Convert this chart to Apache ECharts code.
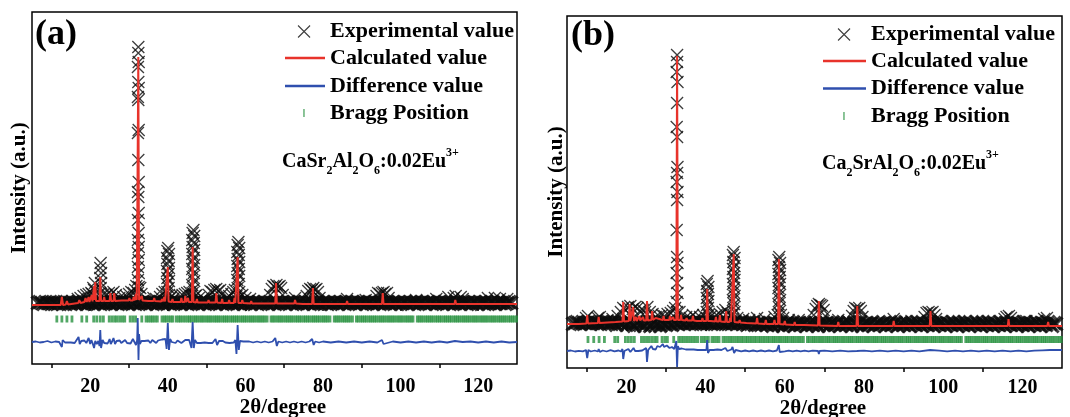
<!DOCTYPE html>
<html><head><meta charset="utf-8">
<script src="https://cdn.jsdelivr.net/npm/echarts/dist/echarts.min.js"></script>
<style>html,body{margin:0;padding:0;background:#fff}#c{width:1070px;height:417px}</style>
</head><body><div id="c"></div><script>
// ---------- DATA ----------
const xMajorTicks = [20, 40, 60, 80, 100, 120];
const xMinorTicks = [10, 30, 50, 70, 90, 110];

// Panel (a) CaSr2Al2O6:0.02Eu3+
const expA_base = [[6.5,1],[7,2],[7.5,1],[8,0],[8.5,2],[9,1],[9.5,1],
[10,0],[10.5,2],[11,1],[11.5,0],[12,1],[12.5,2],[13,0],[13.5,1],[14,2],[14.5,1],
[15,0],[15.5,2],[16,1],[16.5,0],[17,2],[17.5,1],[18,1],[18.5,2],[19,0],[19.5,1],
[20,2],[20.5,1],[21,0],[21.5,2],[22,1],[22.5,1],[23,2],[23.5,0],[24,1],[24.5,2],
[25,1],[25.5,0],[26,2],[26.5,1],[27,1],[27.5,2],[28,0],[28.5,1],[29,2],[29.5,1],
[30,0],[30.5,2],[31,1],[31.5,1],[32,2],[32.5,0],[33,1],[33.5,2],[34,1],[34.5,0],
[35,2],[35.5,1],[36,1],[36.5,2],[37,0],[37.5,1],[38,2],[38.5,1],[39,0],[39.5,2],
[40,1],[40.5,1],[41,2],[41.5,0],[42,1],[42.5,2],[43,1],[43.5,0],[44,2],[44.5,1],
[45,1],[45.5,2],[46,0],[46.5,1],[47,2],[47.5,1],[48,0],[48.5,2],[49,1],[49.5,1],
[50,2],[50.5,0],[51,1],[51.5,2],[52,1],[52.5,0],[53,2],[53.5,1],[54,1],[54.5,2],
[55,0],[55.5,1],[56,2],[56.5,1],[57,0],[57.5,2],[58,1],[58.5,1],[59,2],[59.5,0],
[60,1],[60.5,2],[61,1],[61.5,0],[62,2],[62.5,1],[63,1],[63.5,2],[64,0],[64.5,1],
[65,2],[65.5,1],[66,0],[66.5,2],[67,1],[67.5,1],[68,2],[68.5,0],[69,1],[69.5,2],
[70,1],[70.5,0],[71,2],[71.5,1],[72,1],[72.5,2],[73,0],[73.5,1],[74,2],[74.5,1],
[75,0],[75.5,2],[76,1],[76.5,1],[77,2],[77.5,0],[78,1],[78.5,2],[79,1],[79.5,0],
[80,2],[80.5,1],[81,1],[81.5,2],[82,0],[82.5,1],[83,2],[83.5,1],[84,0],[84.5,2],
[85,1],[85.5,1],[86,2],[86.5,0],[87,1],[87.5,2],[88,1],[88.5,0],[89,2],[89.5,1],
[90,1],[90.5,2],[91,0],[91.5,1],[92,2],[92.5,1],[93,0],[93.5,2],[94,1],[94.5,1],
[95,2],[95.5,0],[96,1],[96.5,2],[97,1],[97.5,0],[98,2],[98.5,1],[99,1],[99.5,2],
[100,0],[100.5,1],[101,2],[101.5,1],[102,0],[102.5,2],[103,1],[103.5,1],[104,2],[104.5,0],
[105,1],[105.5,2],[106,1],[106.5,0],[107,2],[107.5,1],[108,1],[108.5,2],[109,0],[109.5,1],
[110,2],[110.5,1],[111,0],[111.5,2],[112,1],[112.5,1],[113,2],[113.5,0],[114,1],[114.5,2],
[115,1],[115.5,0],[116,2],[116.5,1],[117,1],[117.5,2],[118,0],[118.5,1],[119,2],[119.5,1],
[120,0],[120.5,2],[121,1],[121.5,1],[122,2],[122.5,0],[123,1],[123.5,2],[124,1],[124.5,0],
[125,2],[125.5,1],[126,1],[126.5,2],[127,0],[127.5,1],[128,2],[128.5,1]];
const expA_peaks = [
[32.3,11],[32.5,17],[32.3,24],[32.5,31],[32.3,37],[32.5,44],[32.3,51],[32.5,57],[32.3,64],[32.5,71],[32.3,84],[32.5,91],[32.4,107],[32.3,112],[32.5,122],[32.4,144],[32.3,171],[32.5,174],[32.4,204],[32.3,207],[32.5,216],[32.4,222],[32.3,237],[32.5,242],[32.4,251],[32.4,257],
[31.6,14],[31.9,18],[32.9,16],[33.2,10],
[22.7,41],[22.6,36],[22.8,31],[22.6,26],[22.8,21],[22.7,16],[22.5,11],[21.0,14],[21.2,21],[20.5,10],[20.8,16],
[40.1,56],[39.9,53],[40.3,50],[39.8,46],[40.2,43],[39.9,40],[40.3,36],[39.8,33],[40.2,30],[39.9,26],[40.3,23],[39.8,20],[40.2,16],[39.9,12],[40.3,9],[39.6,8],[40.6,6],
[46.6,74],[46.4,71],[46.8,68],[46.3,64],[46.7,61],[46.4,57],[46.8,54],[46.3,50],[46.7,46],[46.4,43],[46.8,39],[46.3,35],[46.7,31],[46.4,27],[46.8,23],[46.3,19],[46.7,15],[46.4,11],[46.1,8],[47.0,8],
[58.2,62],[58.0,59],[58.4,56],[57.9,52],[58.3,49],[58.0,45],[58.4,42],[57.9,38],[58.3,35],[58.0,31],[58.4,28],[57.9,24],[58.3,20],[58.0,16],[58.4,12],[57.7,8],[58.7,8],
[56.4,10],[56.9,12],[57.3,14],
[66.4,9],[66.8,15],[67.2,18],[67.6,17],[68.0,19],[68.4,17],[68.8,18],[69.2,16],[69.6,9],
[75.8,8],[76.2,13],[76.7,15],[77.1,14],[77.5,16],[77.9,14],[78.3,15],[78.7,12],[79.1,6],
[93.8,8],[94.2,11],[94.7,10],[95.2,11],[95.6,12],[96.0,10],[96.5,11],[96.9,6],
[50.6,9],[51.0,13],[51.5,12],[52.0,14],[52.5,15],[53.0,13],[53.5,14],[54.0,10],
[16.8,5],[17.5,6],[18.3,8],[19.0,9],[19.6,10],[20.3,11],[23.5,10],[24.1,9],[24.8,11],[25.4,10],[26.0,12],[26.6,9],[27.5,6],[28.5,7],[29.3,8],[30.0,10],[30.6,12],[31.2,11],
[36.3,6],[37,5],[38,7],[38.6,10],[39.2,12],[41,8],[41.6,6],[43.2,8],[43.8,9],[44.4,10],[45,11],[45.6,12],
[47.4,9],[48,6],[49.2,5],[55.2,6],[55.8,8],[59.2,9],[60,6],[61.2,5],
[72.8,6],[86.2,5],[91,4],[104,4],[109.2,5],[112.3,7],[113.7,6],[114.2,8],[115.5,7],[116,5],[122.5,6],[124.3,6],[125.6,5],[127.5,5]];
const calcA = [[5,-1],[8,-1],[10,-1],[12.4,-1],[12.7,7],[13.0,-1],[13.7,-0.5],[14.0,3],[14.3,-0.5],[16,0.5],[16.9,1],[17.2,4],[17.5,1],[18.5,2],[18.8,6],[19.1,2],[19.4,2],[19.6,7],[19.8,2],[20.2,2.5],[20.4,9],[20.6,2.5],[20.8,3],[21.0,18],[21.15,4],[21.3,22],[21.5,3],[22.4,3],[22.6,27],[22.8,3],[23.4,3],[23.6,7],[23.8,3],[25.0,3],[25.2,11],[25.4,3],[26.0,3],[26.2,11],[26.4,3],[28.1,3.5],[28.3,5],[28.5,3.5],[29.9,3.5],[30.1,6],[30.3,3.5],[31.0,3.5],[31.2,7],[31.4,3.5],[31.6,4],[31.8,10],[32.0,4],[32.2,4],[32.4,247],[32.6,4],[33.1,3.5],[33.3,8],[33.5,3.5],[35.0,3],[35.2,5],[35.4,3],[36.3,3],[36.5,6],[36.7,3],[38.3,2.5],[38.5,5],[38.7,2.5],[38.9,2.5],[39.1,7],[39.3,2.5],[39.8,2.5],[40.0,37],[40.2,2.5],[41.0,2],[41.2,5],[41.4,2],[43.3,2],[43.5,6],[43.7,2],[44.3,2],[44.5,8],[44.7,2],[45.0,2],[45.2,6],[45.4,2],[46.2,2],[46.4,57],[46.6,2],[47.3,1.5],[47.5,5],[47.7,1.5],[50.3,1.5],[50.5,4],[50.7,1.5],[52.3,1.5],[52.5,11],[52.7,1.5],[53.8,1],[54.0,5],[54.2,1],[55.6,1],[55.8,4],[56.0,1],[57.0,1],[57.2,6],[57.4,1],[57.8,1],[58.0,47],[58.2,1],[59.0,1],[59.2,4],[59.4,1],[61.3,0.5],[61.5,3],[61.7,0.5],[63.8,0.5],[64.0,2],[64.2,0.5],[67.7,0.5],[67.9,21],[68.1,0.5],[72.6,0.5],[72.8,4],[73.0,0.5],[74.8,0],[75.0,2],[75.2,0],[77.2,0],[77.4,16],[77.6,0],[80.1,0],[80.3,2],[80.5,0],[81.8,0],[82.0,2],[82.2,0],[86.0,0],[86.2,3],[86.4,0],[90.8,0],[91.0,2],[91.2,0],[95.2,0],[95.4,11],[95.6,0],[96.8,0],[97.0,2],[97.2,0],[103.8,0],[104.0,1],[104.2,0],[108.8,0],[109.0,2],[109.2,0],[113.9,0],[114.1,4],[114.3,0],[118.8,0],[119.0,1],[119.2,0],[124.2,0],[124.4,2],[124.6,0],[130,0]];
const diffA = [[5,-38],[6,-37.5],[7,-38.5],[8,-38],[9,-37],[10,-38.5],[11,-37.5],[12,-38],[12.5,-37],[12.7,-43],[12.9,-36],[13.5,-38.5],[14,-37],[15,-38.5],[15.5,-37],[16,-39],[16.5,-37.5],[17,-33],[17.3,-40],[17.7,-37],[18,-38.5],[18.5,-36.5],[19,-39],[19.6,-34],[20,-40],[20.3,-36],[20.6,-39],[21.0,-44],[21.3,-37],[21.7,-40],[22.1,-37],[22.4,-42],[22.6,-26],[22.8,-44],[23.2,-36],[23.6,-39],[24,-37],[24.5,-39.5],[25,-35],[25.3,-40],[25.7,-37],[26,-34],[26.4,-40],[26.8,-37],[27.2,-39],[27.6,-36.5],[28,-39],[28.5,-37],[29,-36],[29.5,-39],[30,-37],[30.4,-39.5],[31,-35],[31.4,-38],[31.8,-41],[32.1,-36],[32.25,-14],[32.45,-56],[32.6,-30],[32.8,-40],[33.2,-37],[33.6,-39],[34,-37],[34.5,-38.5],[35,-36.5],[35.5,-39],[36,-36],[36.5,-38],[37,-39],[37.5,-36.5],[38,-38],[38.5,-35.5],[39,-37],[39.4,-35],[39.7,-45],[40,-19],[40.3,-46],[40.6,-35],[41,-38],[41.5,-37],[42,-39],[42.5,-36.5],[43,-35],[43.5,-39],[44,-40],[44.5,-36],[45,-38],[45.5,-36],[46.1,-44],[46.4,-18],[46.7,-44],[47,-36],[47.5,-39],[48,-37.5],[48.5,-39],[49,-37],[49.5,-38.5],[50,-37],[50.5,-39],[51,-37],[51.5,-39],[52,-37],[52.3,-35],[52.7,-41],[53.2,-37],[53.7,-39],[54.2,-37],[54.8,-38.5],[55.3,-37],[55.9,-39],[56.4,-37],[57,-38.5],[57.4,-36],[57.7,-50],[58,-21],[58.3,-46],[58.6,-37],[59,-39],[59.5,-37.5],[60,-38.5],[61,-37.5],[62,-38.5],[63,-37.5],[64,-38.5],[65,-37.5],[66,-38.5],[67,-37.5],[67.7,-34],[68.1,-42],[68.5,-37.5],[69.5,-38.5],[70.5,-37.5],[71.5,-38.5],[72.5,-37.5],[73.5,-38.5],[74.5,-37.5],[75.5,-38.5],[76.5,-37.5],[77.2,-35],[77.6,-41],[78,-37.5],[79,-38.5],[80,-37.5],[82,-38.5],[84,-37.5],[86,-38.5],[88,-37.5],[90,-38.5],[92,-37.5],[94,-38.5],[95.2,-36],[95.6,-40],[96,-38],[98,-37.5],[100,-38.5],[102,-37.5],[104,-38.5],[106,-37.5],[108,-38.5],[110,-37.5],[112,-38.5],[114,-37],[114.3,-39],[116,-38],[118,-37.5],[120,-38.5],[122,-37.5],[124,-38.5],[126,-37.5],[128,-38.5],[130,-38]];
const braggA = [11.4,12.7,14.0,15.3,17.85,19.1,20.9,21.7,22.6,23.4,24.9,25.6,26.3,26.9,27.6,28.3,28.9,30.3,31.0,31.7,
33.3,34.4,35.0,35.6,36.1,36.7,37.3,38.5,39.1,39.6,40.2,40.8,41.3,42.2,42.8,43.3,43.9,44.5,45.1,45.6,46.1,46.7,47.2,47.7,48.3,48.8,49.3,49.9,50.4,50.9,51.4,52.0,52.5,53.0,53.5,54.1,54.6,55.1,55.6,56.2,56.7,57.2,57.7,58.2,58.8,59.3,59.8,60.3,60.9,61.4,61.9,62.4,63.0,63.5,64.0,64.5,65.0,65.6,66.6,67.1,67.6,68.2,68.7,69.2,69.7,70.3,70.8,71.3,71.8,72.3,72.9,73.4,73.9,74.4,75.0,75.5,76.0,76.5,77.1,77.6,78.1,78.6,79.1,79.7,80.2,80.7,81.2,81.8,82.9,83.4,83.9,84.4,85.0,85.5,86.0,86.5,87.0,87.6,88.6,89.1,89.7,90.2,90.7,91.2,91.8,92.3,92.8,93.3,93.8,94.4,94.9,95.4,95.9,96.5,97.0,97.5,98.0,98.5,99.1,99.6,100.1,100.6,101.2,101.7,102.2,102.7,103.2,104.3,104.8,105.3,105.8,106.4,106.9,107.4,107.9,108.4,109.0,109.5,110.0,110.5,111.1,111.6,112.1,112.6,113.1,113.7,114.2,114.7,115.2,115.8,116.3,116.8,117.3,117.8,118.4,118.9,119.4,119.9,120.5,121.0,121.5,122.0,122.5,123.1,123.6,124.1,124.6,125.2,125.7,126.2,126.7,127.2,127.8,128.3,128.8,129.3,129.9];
const braggLevelA = -15;

// Panel (b) Ca2SrAl2O6:0.02Eu3+
const expB_base = [[6.5,0],[7,1],[7.5,2],[8,1],[8.5,0],[9,2],[9.5,1],
[10,1],[10.5,2],[11,0],[11.5,1],[12,2],[12.5,1],[13,1],[13.5,0],[14,2],[14.5,1],
[15,2],[15.5,0],[16,1],[16.5,2],[17,1],[17.5,-1],[18,2],[18.5,1],[19,0],[19.5,2],
[20,-1],[20.5,1],[21,2],[21.5,0],[22,-2],[22.5,1],[23,2],[23.5,-1],[24,1],[24.5,-2],
[25,1],[25.5,2],[26,-2],[26.5,0],[27,2],[27.5,-1],[28,1],[28.5,-2],[29,2],[29.5,0],
[30,-1],[30.5,2],[31,0],[31.5,-1],[32,2],[32.5,1],[33,0],[33.5,2],[34,1],[34.5,0],
[35,2],[35.5,1],[36,0],[36.5,1],[37,2],[37.5,0],[38,1],[38.5,2],[39,1],[39.5,0],
[40,2],[40.5,1],[41,1],[41.5,0],[42,2],[42.5,1],[43,0],[43.5,2],[44,1],[44.5,1],
[45,0],[45.5,2],[46,1],[46.5,0],[47,1],[47.5,2],[48,0],[48.5,1],[49,2],[49.5,0],
[50,1],[50.5,-1],[51,1],[51.5,0],[52,2],[52.5,-1],[53,0],[53.5,1],[54,-1],[54.5,1],
[55,0],[55.5,-1],[56,1],[56.5,0],[57,-2],[57.5,1],[58,0],[58.5,-1],[59,1],[59.5,-2],
[60,0],[60.5,1],[61,-1],[61.5,0],[62,2],[62.5,-2],[63,0],[63.5,1],[64,-1],[64.5,0],
[65,1],[65.5,-2],[66,0],[66.5,1],[67,-1],[67.5,2],[68,0],[68.5,-2],[69,1],[69.5,0],
[70,-1],[70.5,1],[71,-2],[71.5,0],[72,2],[72.5,-1],[73,0],[73.5,1],[74,-2],[74.5,0],
[75,1],[75.5,-1],[76,2],[76.5,0],[77,-2],[77.5,1],[78,0],[78.5,-1],[79,2],[79.5,-2],
[80,0],[80.5,1],[81,-1],[81.5,0],[82,2],[82.5,-2],[83,0],[83.5,1],[84,-1],[84.5,0],
[85,1],[85.5,-2],[86,0],[86.5,2],[87,-1],[87.5,0],[88,1],[88.5,-2],[89,0],[89.5,1],
[90,-1],[90.5,2],[91,0],[91.5,-2],[92,1],[92.5,0],[93,-1],[93.5,2],[94,0],[94.5,-2],
[95,1],[95.5,0],[96,-1],[96.5,2],[97,0],[97.5,-2],[98,1],[98.5,0],[99,-1],[99.5,2],
[100,0],[100.5,-2],[101,1],[101.5,0],[102,-1],[102.5,2],[103,0],[103.5,-2],[104,1],[104.5,0],
[105,-1],[105.5,2],[106,0],[106.5,-2],[107,1],[107.5,0],[108,-1],[108.5,2],[109,0],[109.5,-2],
[110,1],[110.5,0],[111,-1],[111.5,2],[112,0],[112.5,-2],[113,1],[113.5,0],[114,-1],[114.5,2],
[115,0],[115.5,-2],[116,1],[116.5,0],[117,-1],[117.5,2],[118,0],[118.5,-2],[119,1],[119.5,0],
[120,-1],[120.5,2],[121,0],[121.5,-2],[122,1],[122.5,0],[123,-1],[123.5,2],[124,0],[124.5,-2],
[125,1],[125.5,0],[126,-1],[126.5,2],[127,0],[127.5,-2],[128,1],[128.5,0]];
const expB_peaks = [
[32.8,12],[32.7,22],[32.9,31],[32.8,41],[32.7,51],[32.9,61],[32.8,67],[32.7,94],[32.8,124],[32.9,132],[32.7,142],[32.8,151],[32.9,157],[32.8,187],[32.7,197],[32.8,221],[32.9,242],[32.7,252],[32.8,262],[32.8,269],
[40.5,43],[40.3,40],[40.7,37],[40.4,33],[40.6,30],[40.3,26],[40.7,23],[40.4,19],[40.6,16],[40.3,12],[40.7,9],
[47.1,72],[46.9,69],[47.3,66],[47.0,62],[47.3,58],[46.9,55],[47.2,51],[47.0,47],[47.3,44],[46.9,40],[47.2,36],[47.0,32],[47.3,28],[46.9,24],[47.2,20],[47.0,16],[47.3,12],[46.8,9],
[58.6,67],[58.4,64],[58.8,61],[58.5,57],[58.8,54],[58.4,50],[58.7,47],[58.5,43],[58.8,40],[58.4,36],[58.7,32],[58.5,28],[58.8,24],[58.4,20],[58.7,16],[58.5,12],[58.2,9],[59.0,9],
[67.3,9],[67.8,15],[68.2,18],[68.6,20],[69.0,19],[69.4,18],[69.8,14],[70.2,8],
[77.0,8],[77.4,13],[77.8,16],[78.3,15],[78.8,16],[79.2,13],[79.6,7],
[95.3,7],[95.8,11],[96.3,12],[96.8,11],[97.3,12],[97.8,9],[98.2,5],
[115.5,5],[116.0,7],[116.6,8],[117.1,6],[125.5,5],[126.2,6],
[9.8,6],[10.3,8],[12.8,6],[13.3,7],[15.2,4],[16.5,5],[17.8,8],[18.6,12],[19.2,16],[19.8,14],[20.4,17],[21.0,18],[21.6,15],[22.2,17],[22.8,16],[23.4,13],[24.1,14],[24.7,12],[25.3,17],[25.9,12],[26.6,10],[27.4,7],[28.2,8],[29.0,9],[29.6,8],[30.4,10],[31.2,11],[31.8,13],[32.3,16],[33.4,12],[34.0,8],[35.1,7],[36.0,6],[36.8,9],[37.6,6],[38.6,7],[39.4,9],[41.4,8],[42.2,7],[42.8,9],[43.6,10],[44.3,12],[45.0,14],[45.6,11],[46.3,9],[48.0,6],[49.5,5],[51.0,4],[53.0,6],[55.0,5],[57.4,7],[59.6,6],[61,4],[63.5,4],[73.5,4],[87.5,5],[92,3],[104,3],[110,3],[121,3]];
const calcB = [[5,0],[8,0],[9.9,0.5],[10.1,9],[10.3,0.5],[12.8,1],[13.0,7],[13.2,1],[15.2,1.5],[15.4,3],[15.6,1.5],[17.3,2],[17.5,4],[17.7,2],[19.0,2.5],[19.2,22],[19.4,2.5],[20.6,3],[20.8,20],[21.0,3],[21.5,3],[21.7,17],[21.9,3],[22.2,3],[22.4,7],[22.6,3],[23.1,3.5],[23.3,8],[23.5,3.5],[24.0,3.5],[24.2,7],[24.4,3.5],[25.0,3.5],[25.2,23],[25.4,3.5],[26.3,4],[26.5,13],[26.7,4],[27.2,4],[27.4,6],[27.6,4],[29.2,4],[29.4,8],[29.6,4],[30.8,4],[31.0,8],[31.2,4],[31.6,4],[31.8,7],[32.0,4],[32.6,4],[32.8,268],[33.0,4],[33.6,4],[33.8,9],[34.0,4],[35.0,3.5],[35.2,6],[35.4,3.5],[36.6,3.5],[36.8,8],[37.0,3.5],[37.8,3],[38.0,5],[38.2,3],[39.0,3],[39.2,6],[39.4,3],[40.2,3],[40.4,35],[40.6,3],[41.3,3],[41.5,5],[41.7,3],[42.4,2.5],[42.6,7],[42.8,2.5],[43.4,2.5],[43.6,9],[43.8,2.5],[45.0,2],[45.2,13],[45.4,2],[46.0,2],[46.2,6],[46.4,2],[46.9,2],[47.1,70],[47.3,2],[48.4,1.5],[48.6,4],[48.8,1.5],[50.3,1],[50.5,3],[50.7,1],[52.8,0.5],[53.0,6],[53.2,0.5],[55.0,0],[55.2,4],[55.4,0],[57.2,0],[57.4,4],[57.6,0],[58.3,0],[58.5,65],[58.7,0],[59.8,-0.5],[60.0,3],[60.2,-0.5],[62.3,-1],[62.5,2],[62.7,-1],[64.8,-1],[65.0,1],[65.2,-1.5],[68.4,-1.5],[68.6,23],[68.8,-1.5],[73.3,-2],[73.5,2],[73.7,-2],[75.8,-2],[76.0,0],[76.2,-2],[78.1,-2],[78.3,18],[78.5,-2],[80.8,-2],[81.0,0],[81.2,-2],[87.3,-2],[87.5,3],[87.7,-2],[91.8,-2],[92.0,0],[92.2,-2],[96.6,-2],[96.8,13],[97.0,-2],[98.8,-2],[99.0,0],[99.2,-2],[105.8,-2],[106.0,-1],[106.2,-2],[116.3,-2],[116.5,5],[116.7,-2],[120.8,-2],[121.0,-1],[121.2,-2],[126.3,-2],[126.5,2],[126.7,-2],[130,-2]];
const diffB = [[5,-27],[6,-26.5],[7,-27.5],[8,-26.8],[9,-27.3],[9.8,-26],[10.1,-34],[10.4,-26],[11,-27.5],[12,-26.5],[12.8,-27.5],[13,-25],[13.3,-28],[14,-26.5],[15,-27.5],[16,-26.2],[17,-27.3],[18,-26.5],[18.6,-27.5],[19.0,-25],[19.2,-35],[19.5,-27],[20,-26],[20.5,-25],[21,-28],[21.4,-26],[21.8,-24],[22.2,-27],[22.5,-25.5],[23,-27],[23.5,-25],[24,-26.5],[24.5,-25.5],[25.0,-24],[25.2,-38],[25.5,-26],[25.9,-24.5],[26.3,-22],[26.7,-25],[27,-24],[27.4,-25.5],[27.8,-22],[28.2,-24],[28.5,-23],[28.9,-24.5],[29.2,-20],[29.5,-23],[29.8,-24],[30.2,-21.5],[30.5,-22],[30.9,-24],[31.2,-25],[31.5,-23],[31.8,-22],[32.1,-25],[32.4,-24],[32.6,-17],[32.8,-43],[33.0,-22],[33.3,-25],[33.5,-26],[34,-24.5],[34.5,-26.5],[35,-25.5],[35.5,-27],[36,-25.5],[36.5,-26.5],[37,-25.5],[37.5,-27],[38,-26],[38.5,-27],[39,-26],[39.5,-27.5],[40.2,-26],[40.4,-16],[40.6,-29],[41,-26],[41.5,-27.5],[42,-26],[42.5,-27],[43,-25.5],[43.5,-27],[44,-26],[44.5,-25],[45,-24],[45.5,-27],[46,-26],[46.5,-25.5],[46.8,-23],[47.2,-29],[47.6,-26],[48,-26.5],[49,-27.3],[50,-26.5],[51,-27.3],[52,-26.5],[53,-27.3],[54,-26.5],[55,-27.3],[56,-26.5],[57,-27.3],[58,-26.5],[58.3,-26],[58.5,-21],[58.7,-28],[59,-26.8],[60,-27.3],[61,-26.6],[62,-27.3],[63,-26.6],[64,-27.3],[65,-26.6],[66,-27.3],[67,-26.6],[68.4,-27],[68.6,-30],[68.8,-27],[70,-26.6],[72,-27.3],[74,-26.6],[76,-27.3],[78.2,-27],[78.4,-29],[78.6,-27],[80,-26.6],[82,-27.3],[84,-26.6],[86,-27.3],[88,-26.6],[90,-27.3],[92,-26.6],[94,-27.3],[96.7,-26],[96.9,-28],[97.1,-27],[99,-26.6],[101,-27.3],[103,-26.6],[105,-27.3],[107,-26.6],[109,-27.3],[111,-26.6],[113,-27.3],[115,-26.6],[117,-27.3],[119,-26.6],[121,-27.3],[123,-26.6],[125,-26.3],[127,-26],[130,-26]];
const braggB = [10.3,11.75,13.1,14.45,17.05,17.8,19.75,20.5,21.25,22.0,23.8,24.45,25.1,25.8,26.5,27.15,27.75,29.0,29.7,30.35,31.95,
33.2,33.8,34.4,35.0,35.6,36.2,36.8,37.4,38.0,38.9,39.5,40.1,40.7,41.6,42.2,42.8,43.4,44.4,45.0,45.6,46.2,46.7,47.3,47.9,48.4,49.0,49.5,50.1,50.6,51.2,51.7,52.3,52.8,53.4,53.9,54.5,55.0,55.6,56.1,56.7,57.2,57.7,58.3,58.8,59.3,59.9,60.4,60.9,61.5,62.0,62.5,63.1,63.6,64.1,64.7,65.7,66.2,66.8,67.3,67.8,68.4,68.9,69.4,69.9,70.5,71.0,71.5,72.1,72.6,73.1,73.6,74.2,74.7,75.2,75.8,76.3,76.8,77.3,77.9,78.4,78.9,79.4,80.0,80.5,81.0,81.5,82.1,82.6,83.1,83.6,84.2,84.7,85.2,85.7,86.3,86.8,87.3,87.8,88.4,88.9,89.4,89.9,90.5,91.0,91.5,92.0,92.6,93.1,93.6,94.1,94.7,95.2,95.7,96.2,96.8,97.3,97.8,98.3,98.9,99.4,99.9,100.4,101.0,101.5,102.0,102.5,103.1,103.6,104.1,104.6,105.7,106.2,106.7,107.2,107.8,108.3,108.8,109.3,109.9,110.4,110.9,111.4,112.0,112.5,113.0,113.5,114.1,114.6,115.1,115.6,116.2,116.7,117.2,117.7,118.3,118.8,119.3,119.8,120.4,120.9,121.4,121.9,122.5,123.0,123.5,124.0,124.6,125.1,125.6,126.1,126.7,127.2,127.7,128.2,128.8,129.3,129.8];
const braggLevelB = -15.5;

// ---------- STYLE ----------
const FONT = "'Liberation Serif','Times New Roman',serif";
const C_EXP = '#0d0d0d', C_CALC = '#e8332b', C_DIFF = '#2f4fae', C_BRAGG = '#27913f';
const XSYM = 'path://M0,0L10,10M10,0L0,10';
const TICKSYM = 'path://M0,0L1,0L1,6L0,6Z';
const bold = (size, extra) => Object.assign({fontFamily: FONT, fontWeight: 'bold', fontSize: size, color: '#000'}, extra || {});

function xAxes(grid, labelMargin, nameGap) {
  return [
    {gridIndex: grid, type: 'value', min: 5, max: 130, position: 'bottom',
     axisLine: {show: false}, splitLine: {show: false},
     axisTick: {show: true, inside: false, length: 7, customValues: xMajorTicks, lineStyle: {color: '#000', width: 1.5}},
     axisLabel: {show: true, customValues: xMajorTicks, margin: labelMargin, ...bold(20)},
     name: '2θ/degree', nameLocation: 'middle', nameGap: nameGap, nameMoveOverlap: false,
     nameTextStyle: bold(21, {padding: [0, 0, 0, 17]})},
    {gridIndex: grid, type: 'value', min: 5, max: 130, position: 'bottom',
     axisLine: {show: false}, splitLine: {show: false}, axisLabel: {show: false},
     axisTick: {show: true, inside: false, length: 4, customValues: xMinorTicks, lineStyle: {color: '#000', width: 1.5}}}
  ];
}
function yAxis(grid, min, max, nameGap) {
  return {gridIndex: grid, type: 'value', min: min, max: max,
    axisLine: {show: false}, axisTick: {show: false}, axisLabel: {show: false}, splitLine: {show: false},
    name: 'Intensity (a.u.)', nameLocation: 'middle', nameRotate: 90, nameGap: nameGap, nameMoveOverlap: false,
    nameTextStyle: bold(21)};
}
function seriesFor(xi, yi, expBase, expPeaks, calc, diff, bragg, braggLevel) {
  return [
    {name: 'Experimental value', type: 'scatter', xAxisIndex: xi, yAxisIndex: yi,
     data: expBase, symbol: XSYM, symbolSize: 13, z: 2, silent: true,
     itemStyle: {color: C_EXP, borderColor: C_EXP, borderWidth: 3}},
    {name: 'Experimental value', type: 'scatter', xAxisIndex: xi, yAxisIndex: yi,
     data: expPeaks, symbol: XSYM, symbolSize: 12, z: 2, silent: true,
     itemStyle: {color: C_EXP, borderColor: C_EXP, borderWidth: 1.3}},
    {name: 'Calculated value', type: 'line', xAxisIndex: xi, yAxisIndex: yi, data: calc,
     symbol: 'none', showSymbol: false, z: 3, silent: true,
     lineStyle: {color: C_CALC, width: 2}, itemStyle: {color: C_CALC}},
    {name: 'Difference value', type: 'line', xAxisIndex: xi, yAxisIndex: yi, data: diff,
     symbol: 'none', showSymbol: false, z: 3, silent: true,
     lineStyle: {color: C_DIFF, width: 1.8}, itemStyle: {color: C_DIFF}},
    {name: 'Bragg Position', type: 'scatter', xAxisIndex: xi, yAxisIndex: yi,
     data: bragg.map(v => [v, braggLevel]), symbol: 'rect', symbolSize: [2.8, 7], z: 2, silent: true,
     itemStyle: {color: C_BRAGG}}
  ];
}
const legTxt = bold(22, {lineHeight: 24});
function leg(name, left, top, w, h, icon, itemStyle) {
  return {show: true, left: left, top: top, padding: 0, itemWidth: w, itemHeight: h,
    selectedMode: false, symbolKeepAspect: true, textStyle: legTxt,
    data: [{name: name, icon: icon, itemStyle: itemStyle}]};
}
// legend layout starts at the drawn icon's left edge
function legends(xIcon, xLine, xText, tops) {
  const wX = 2 * (xText - 5 - xIcon);
  const wL = xText - 5 - xLine;
  return [
    leg('Experimental value', xIcon - 6.5, tops[0], wX, 12, XSYM, {color: C_EXP, borderColor: C_EXP, borderWidth: 1.1}),
    leg('Calculated value', xLine, tops[1], wL, 2.5, 'rect', {color: C_CALC, borderWidth: 0}),
    leg('Difference value', xLine, tops[2], wL, 2.5, 'rect', {color: C_DIFF, borderWidth: 0}),
    leg('Bragg Position', xIcon - 0.7, tops[3], wX, 8, TICKSYM, {color: C_BRAGG, borderWidth: 0})
  ];
}
const rich = {
  n: bold(20, {lineHeight: 30}),
  s: bold(12, {lineHeight: 11, verticalAlign: 'bottom'}),
  p: bold(12, {lineHeight: 11, verticalAlign: 'top'})
};

const option = {
  animation: false,
  backgroundColor: '#fff',
  grid: [
    {left: 32, top: 12, width: 485, height: 352, show: true, borderColor: '#000', borderWidth: 1.5, backgroundColor: 'transparent', outerBoundsMode: 'none'},
    {left: 567, top: 16, width: 495, height: 352, show: true, borderColor: '#000', borderWidth: 1.5, backgroundColor: 'transparent', outerBoundsMode: 'none'}
  ],
  xAxis: xAxes(0, 13, 33.5).concat(xAxes(1, 10, 30)),
  yAxis: [yAxis(0, -60, 292, 1.5), yAxis(1, -44, 308, 0)],
  title: [
    {text: '(a)', left: 35, top: 14.5, padding: 0, textStyle: bold(36, {lineHeight: 40})},
    {text: '(b)', left: 571, top: 16, padding: 0, textStyle: bold(36, {lineHeight: 40})},
    {text: '{n|CaSr}{s|2}{n|Al}{s|2}{n|O}{s|6}{n|:0.02Eu}{p|3+}', left: 282, top: 147, padding: 0, textStyle: {rich: rich}},
    {text: '{n|Ca}{s|2}{n|SrAl}{s|2}{n|O}{s|6}{n|:0.02Eu}{p|3+}', left: 822, top: 149, padding: 0, textStyle: {rich: rich}}
  ],
  legend: legends(304, 285, 330, [19.5, 46, 74, 101]).concat(legends(844, 823, 871, [22.5, 49, 76.5, 104])),
  series: seriesFor(0, 0, expA_base, expA_peaks, calcA, diffA, braggA, braggLevelA)
    .concat(seriesFor(2, 1, expB_base, expB_peaks, calcB, diffB, braggB, braggLevelB))
};
const chart = echarts.init(document.getElementById('c'), null, {renderer: 'canvas'});
chart.setOption(option);
</script></body></html>
